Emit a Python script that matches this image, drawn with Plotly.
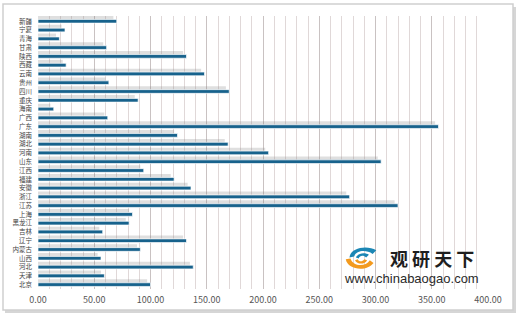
import plotly.graph_objects as go

# Categories listed bottom -> top (as plotted)
provinces = ["北京", "天津", "河北", "山西", "内蒙古", "辽宁", "吉林", "黑龙江", "上海", "江苏",
             "浙江", "安徽", "福建", "江西", "山东", "河南", "湖北", "湖南", "广东", "广西",
             "海南", "重庆", "四川", "贵州", "云南", "西藏", "陕西", "甘肃", "青海", "宁夏", "新疆"]
values = [100, 59, 138, 56, 91, 132, 57.5, 81, 84, 320,
          277, 136, 121, 94, 305, 205, 169, 124, 356, 62,
          14, 89, 170, 63, 148, 25, 132, 61, 19, 24, 70]
x_ticks = [0, 50, 100, 150, 200, 250, 300, 350, 400]

W, H = 520, 318
L, R, T, B = 38, 32, 16, 29
PW, PH = W - L - R, H - T - B


def px(x):
    return (x - L) / PW


def py(y):
    return 1 - (y - T) / PH


def path(cmds, ox, oy, sx, sy):
    out = []
    for c in cmds:
        if isinstance(c, str):
            out.append(c)
        else:
            u, v = c
            out.append(f"{px(ox + u * sx):.5f},{py(oy + v * sy):.5f}")
    return " ".join(out)


fig = go.Figure()

# soft shadow behind the bars
fig.add_trace(go.Bar(
    y=provinces, x=values, base=-3, orientation="h",
    width=0.45, offset=0.15,
    marker=dict(color="rgba(130,130,130,0.26)", line=dict(width=0)),
    hoverinfo="skip", showlegend=False,
))
fig.add_trace(go.Bar(
    y=provinces, x=values, orientation="h",
    width=0.42,
    marker=dict(color="#17628c", line=dict(color="rgba(255,255,255,0.85)", width=0.8)),
    showlegend=False,
))

ox, oy, sx, sy = 343, 244, 37 / 40, 27 / 30
teal1 = ["M", (7, 15), "C", (8, 4), (26, 1), (36, 7), "L", (32, 11), "C", (25, 6), (14, 7), (12, 14), "Z"]
teal2 = ["M", (14, 15), "C", (16, 10), (24, 9), (28, 12), "L", (25, 15), "C", (22, 12), (18, 13), (17, 16), "Z"]
orng1 = ["M", (3, 17), "C", (5, 29), (26, 31), (33, 21), "L", (29, 18), "C", (24, 26), (11, 25), (8, 16), "Z"]
orng2 = ["M", (13, 18), "C", (15, 23), (24, 23), (26, 18), "L", (23, 17), "C", (21, 20), (17, 20), (16, 17), "Z"]

shapes = [
    # outer frame shadow + frame
    dict(type="rect", xref="paper", yref="paper", layer="below",
         x0=px(5), x1=px(516), y0=py(7), y1=py(313),
         line=dict(width=0), fillcolor="#d6d6d6"),
    dict(type="rect", xref="paper", yref="paper", layer="below",
         x0=px(3), x1=px(513), y0=py(4), y1=py(310),
         line=dict(color="#cfcfcf", width=1.5), fillcolor="white"),
]
for p, col in [(teal1, "#1b86b4"), (teal2, "#1b86b4"), (orng1, "#f39a1e"), (orng2, "#f39a1e")]:
    shapes.append(dict(type="path", xref="paper", yref="paper", layer="above",
                       path=path(p, ox, oy, sx, sy), fillcolor=col, line=dict(width=0)))

fig.update_layout(
    width=W, height=H,
    margin=dict(l=L, r=R, t=T, b=B),
    paper_bgcolor="white",
    plot_bgcolor="#f9f1f1",
    barmode="overlay",
    shapes=shapes,
    annotations=[
        dict(text="<b>观 研 天 下</b>", xref="paper", yref="paper",
             x=px(432), y=py(258), showarrow=False, xanchor="center", yanchor="middle",
             font=dict(family="Noto Sans CJK SC", size=18, color="#1e1e1e")),
        dict(text="www.chinabaogao.com", xref="paper", yref="paper",
             x=px(411), y=py(278), showarrow=False, xanchor="center", yanchor="middle",
             font=dict(family="Liberation Sans", size=13, color="#2a2a2a")),
    ],
    xaxis=dict(
        range=[0, 400], tickvals=x_ticks, tickformat=".2f",
        showgrid=True, gridcolor="#c9c2c2", gridwidth=1,
        minor=dict(dtick=10, showgrid=True, gridcolor="#e0d8d8", gridwidth=1),
        zeroline=False, showline=False, ticks="",
        tickfont=dict(family="Noto Sans CJK SC", size=9, color="#555555"),
        ticklabelstandoff=4, fixedrange=True,
    ),
    yaxis=dict(
        categoryorder="array", categoryarray=provinces,
        tickmode="linear", tick0=0, dtick=1,
        showgrid=False, zeroline=False, ticks="",
        tickfont=dict(family="Noto Sans CJK SC", size=6.5, color="#444444"),
        ticklabelstandoff=5, fixedrange=True,
    ),
)

fig.write_html("out.html")
